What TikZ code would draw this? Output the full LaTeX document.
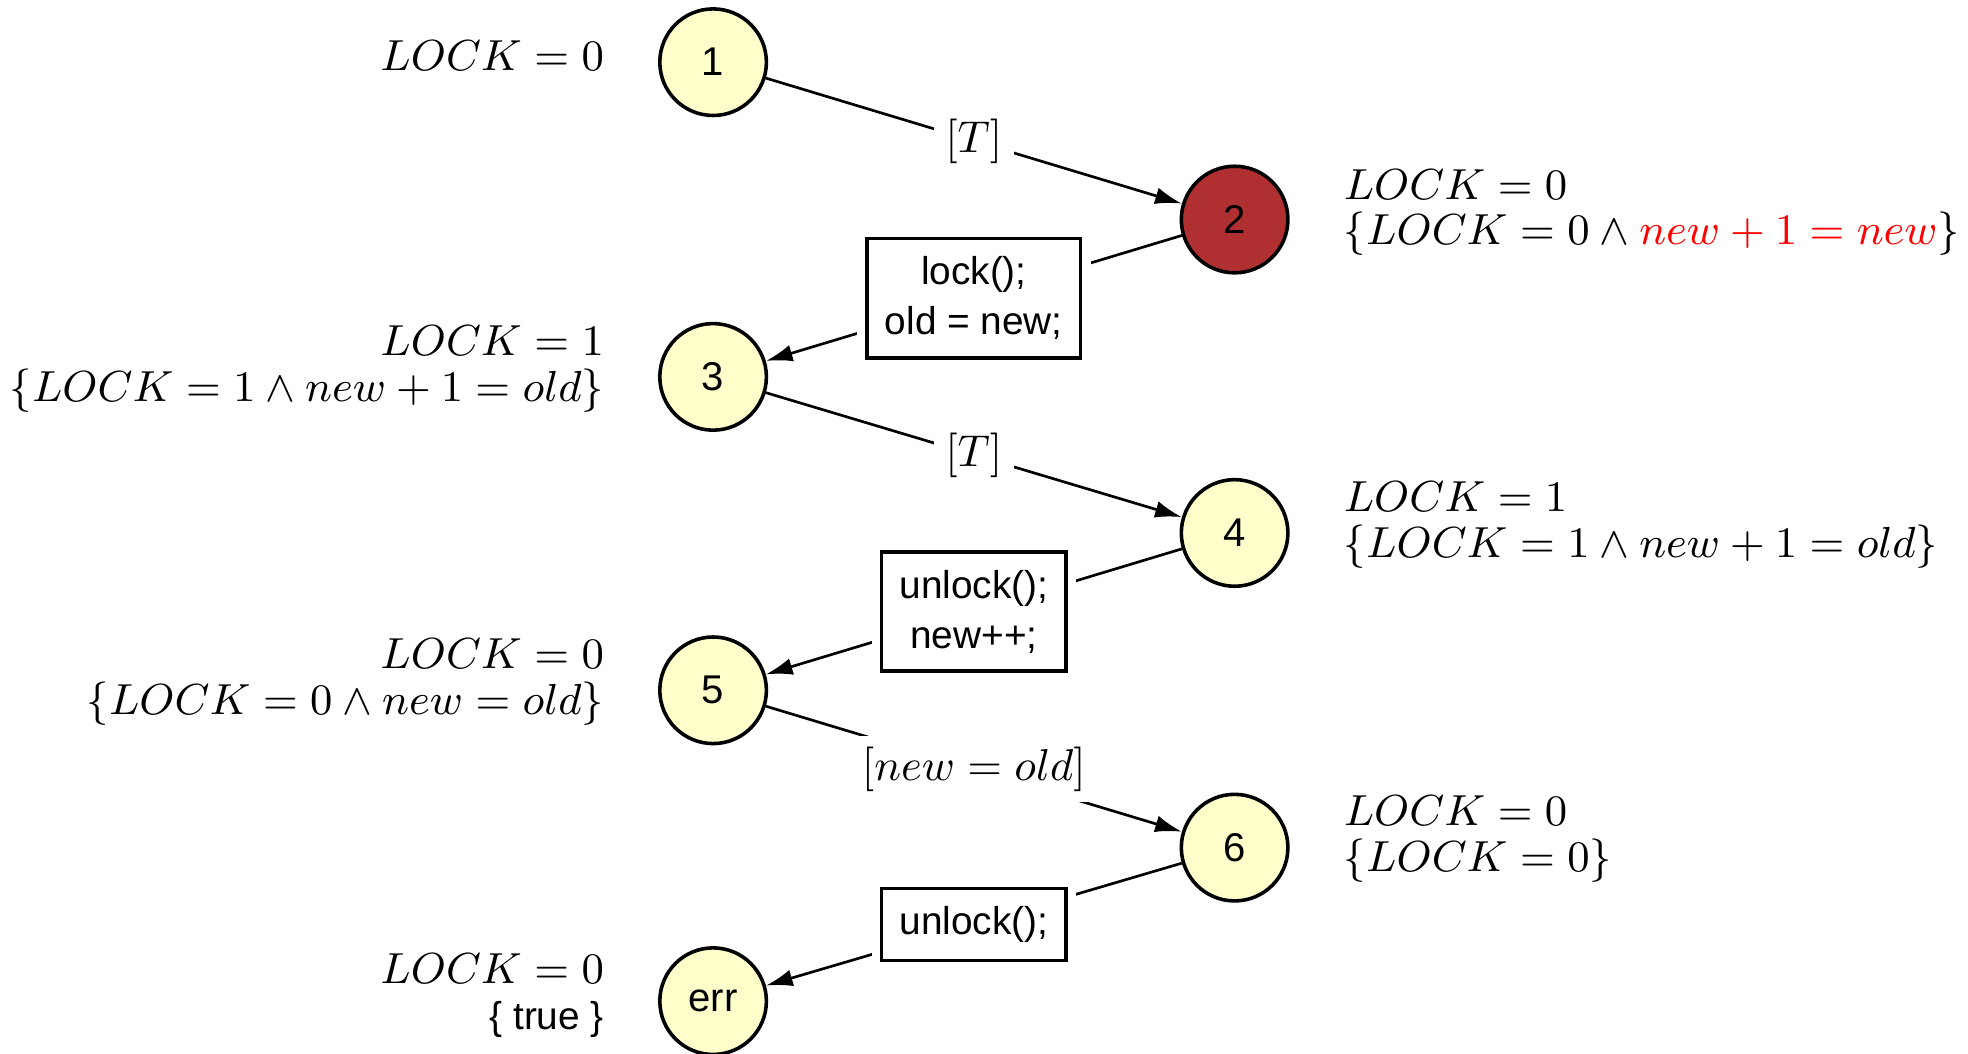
\RequirePackage{fix-cm}
\documentclass[tikz,border=0pt]{standalone}
\usepackage{fontspec}
\newfontfamily\helv{Liberation Sans}
\usepackage{tikz}
\usetikzlibrary{arrows.meta,calc,positioning}
\definecolor{stateyellow}{RGB}{255,255,204}
\definecolor{errred}{RGB}{176,48,50}

\begin{document}
\begin{tikzpicture}[>={Latex[length=6pt,width=3.8pt]},line width=0.6pt,
  state/.style={circle,draw,line width=0.8pt,fill=stateyellow,minimum size=0.84cm,inner sep=0pt,
    font=\helv\fontsize{9}{11}\selectfont},
  stmt/.style={draw,line width=0.8pt,fill=white,preaction={draw=white,line width=4.5pt},
    inner sep=4pt,align=center,font=\helv\fontsize{8.7}{11.3}\selectfont},
  guard/.style={fill=white,inner sep=2.5pt},
  inv/.style={inner sep=0pt,font=\fontsize{9.75}{10.3}\selectfont}]
 \useasboundingbox (0,0) rectangle (15.51,-8.30);
 % states
 \node[state] (s1) at (5.62,-0.49) {1};
 \node[state,fill=errred] (s2) at (9.73,-1.73) {2};
 \node[state] (s3) at (5.62,-2.97) {3};
 \node[state] (s4) at (9.73,-4.20) {4};
 \node[state] (s5) at (5.62,-5.44) {5};
 \node[state] (s6) at (9.73,-6.68) {6};
 \node[state] (serr) at (5.62,-7.89) {err};
 % transitions
 \draw[->] (s1) -- node[guard] {$[T]$} (s2);
 \draw[->] (s2) -- node[stmt] {lock();\\old = new;} (s3);
 \draw[->] (s3) -- node[guard] {$[T]$} (s4);
 \draw[->] (s4) -- node[stmt] {unlock();\\new++;} (s5);
 \draw[->] (s5) -- node[guard] {$[new=old]$} (s6);
 \draw[->] (s6) -- node[stmt] {unlock();} (serr);
 % invariants
 \node[inv,anchor=east,align=right] (i1) at (4.77,-0.44) {$LOCK=0$};
 \node[inv,anchor=west,align=left] (i2) at (10.58,-1.675)
   {$LOCK=0$\\$\{LOCK=0\wedge\textcolor{red}{new+1=new}\}$};
 \node[inv,anchor=east,align=right] (i3) at (4.77,-2.905)
   {$LOCK=1$\\$\{LOCK=1\wedge new+1=old\}$};
 \node[inv,anchor=west,align=left] (i4) at (10.58,-4.135)
   {$LOCK=1$\\$\{LOCK=1\wedge new+1=old\}$};
 \node[inv,anchor=east,align=right] (i5) at (4.77,-5.375)
   {$LOCK=0$\\$\{LOCK=0\wedge new=old\}$};
 \node[inv,anchor=west,align=left] (i6) at (10.58,-6.615)
   {$LOCK=0$\\$\{LOCK=0\}$};
 \node[inv,anchor=east,align=right] (ierr) at (4.77,-7.845)
   {$LOCK=0$\\{\helv\fontsize{8.7}{10}\selectfont\{ true \}}};
\end{tikzpicture}
\end{document}
